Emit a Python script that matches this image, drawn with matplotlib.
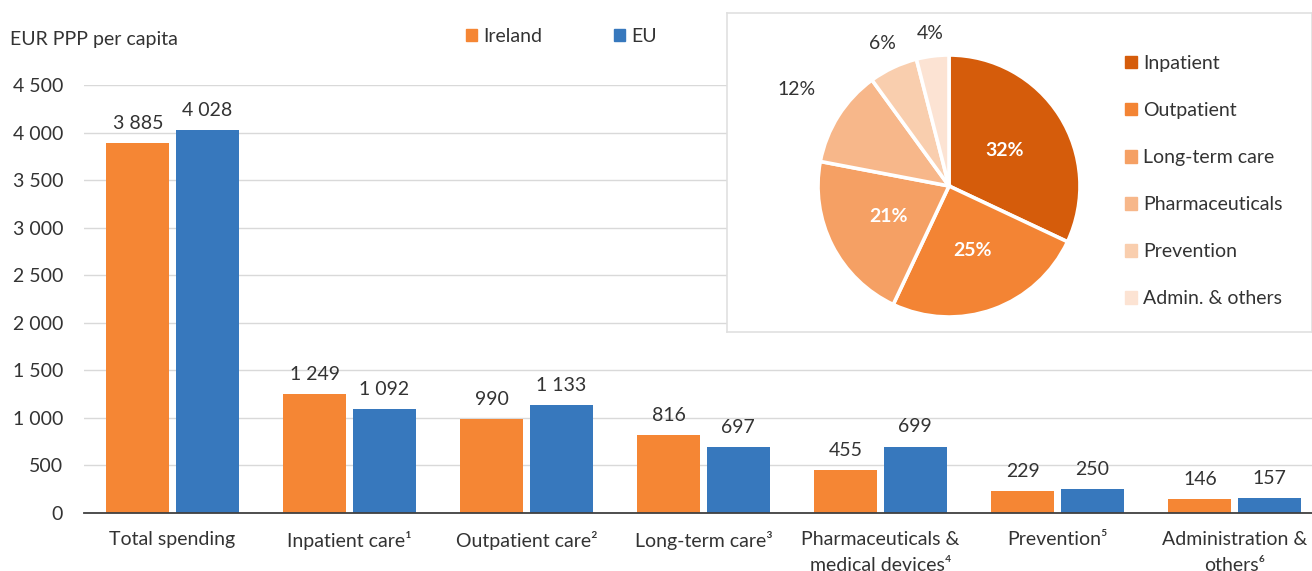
import matplotlib
matplotlib.use("Agg")
import matplotlib.pyplot as plt
import numpy as np
from matplotlib.patches import Patch

plt.rcParams['font.family'] = ['Lato', 'DejaVu Sans']
FS = 14
plt.rcParams['font.size'] = FS

categories = ["Total spending", "Inpatient care¹", "Outpatient care²", "Long-term care³",
              "Pharmaceuticals &\nmedical devices⁴", "Prevention⁵", "Administration &\nothers⁶"]
ireland = [3885, 1249, 990, 816, 455, 229, 146]
eu = [4028, 1092, 1133, 697, 699, 250, 157]
yticks = [0, 500, 1000, 1500, 2000, 2500, 3000, 3500, 4000, 4500]

pie_labels = ["Inpatient", "Outpatient", "Long-term care", "Pharmaceuticals", "Prevention", "Admin. & others"]
pie_values = [32, 25, 21, 12, 6, 4]
pie_colors = ["#D55C0B", "#F38434", "#F5A064", "#F7B78A", "#F9CEAE", "#FCE3D3"]

C_IE = "#F58634"
C_EU = "#3778BD"
TXT = "#333333"

def fmt(v):
    return f"{v:,}".replace(",", " ")

W, H = 1312, 571
fig = plt.figure(figsize=(W/100, H/100), dpi=100)

ax = fig.add_axes([84/W, (H-513)/H, (1323-84)/W, (513-85)/H])
x = np.arange(len(categories))
bw = 0.356
ax.bar(x - 0.195, ireland, bw, color=C_IE, zorder=3)
ax.bar(x + 0.195, eu, bw, color=C_EU, zorder=3)
for xi, a, b in zip(x, ireland, eu):
    ax.annotate(fmt(a), (xi - 0.195, a), xytext=(0, 8), textcoords="offset points",
                ha="center", va="bottom", color=TXT, fontsize=FS)
    ax.annotate(fmt(b), (xi + 0.195, b), xytext=(0, 8), textcoords="offset points",
                ha="center", va="bottom", color=TXT, fontsize=FS)
ax.set_xlim(-0.5, 6.5)
ax.set_ylim(0, 4500)
ax.set_yticks(yticks)
ax.set_yticklabels([fmt(t) for t in yticks])
ax.set_xticks(x)
ax.set_xticklabels(categories, linespacing=1.62, va="top")
ax.tick_params(axis="y", length=0, pad=15, colors=TXT, labelsize=FS)
ax.tick_params(axis="x", length=0, pad=13, colors=TXT, labelsize=FS)
ax.grid(axis="y", color="#D9D9D9", linewidth=1, zorder=0)
for s in ["top", "right", "left"]:
    ax.spines[s].set_visible(False)
ax.spines["bottom"].set_color("#404040")
ax.spines["bottom"].set_linewidth(1.3)
ax.spines["bottom"].set_zorder(4)

fig.text(10/W, 1 - 40/H, "EUR PPP per capita", ha="left", va="center", color=TXT, fontsize=FS)

leg = fig.legend(handles=[Patch(color=C_IE, label="Ireland"), Patch(color=C_EU, label="EU")],
                 loc="center left", bbox_to_anchor=(466/W, 1 - 36/H), ncol=2, frameon=False,
                 handlelength=0.57, handleheight=0.57, handletextpad=0.3, columnspacing=3.7,
                 fontsize=FS, borderpad=0, borderaxespad=0)
for t in leg.get_texts():
    t.set_color(TXT)

box = fig.add_axes([727/W, (H-332)/H, (1312-727)/W, (332-13)/H])
box.set_xticks([]); box.set_yticks([])
box.set_facecolor("white")
for s in box.spines.values():
    s.set_color("#E0E0E0")
    s.set_linewidth(1.2)
box.set_zorder(5)

cx, cy, r = 949, 186, 131
pax = fig.add_axes([(cx-r)/W, (H-cy-r)/H, 2*r/W, 2*r/H])
pax.set_zorder(6)
wedges, _ = pax.pie(pie_values, colors=pie_colors, startangle=90, counterclock=False,
                    wedgeprops=dict(edgecolor="white", linewidth=2.6))
pax.set_xlim(-1, 1); pax.set_ylim(-1, 1)
dists = [0.5, 0.52, 0.52, 1.38, 1.2, 1.17]
for w, v, d in zip(wedges, pie_values, dists):
    ang = np.deg2rad((w.theta1 + w.theta2) / 2)
    inner = d < 1
    pax.text(d*np.cos(ang), d*np.sin(ang), f"{v}%", ha="center", va="center",
             color="white" if inner else TXT, fontweight="bold" if inner else "normal",
             fontsize=FS, clip_on=False)

pleg = fig.legend(handles=[Patch(color=c, label=l) for c, l in zip(pie_colors, pie_labels)],
                  loc="upper left", bbox_to_anchor=(1125/W, 1 - 55/H), frameon=False,
                  handlelength=0.62, handleheight=0.62, handletextpad=0.31, labelspacing=1.545,
                  fontsize=FS, borderpad=0, borderaxespad=0)
pleg.set_zorder(7)
for t in pleg.get_texts():
    t.set_color(TXT)

fig.savefig("out.png", dpi=100)
